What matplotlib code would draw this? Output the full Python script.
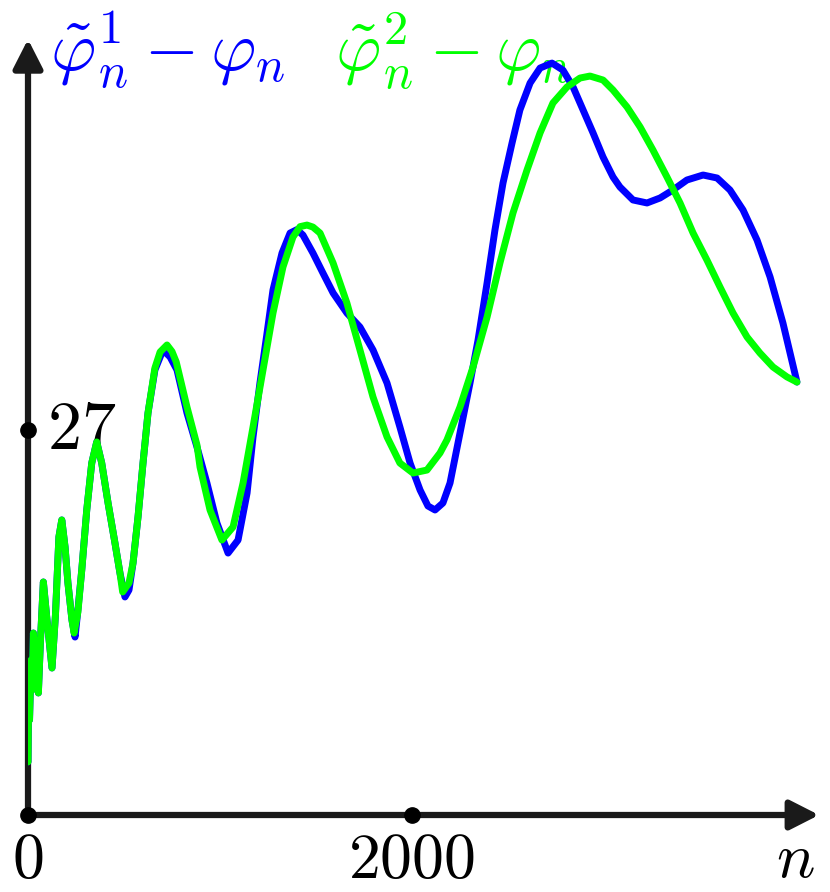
import numpy as np
import matplotlib
matplotlib.use("Agg")
import matplotlib.pyplot as plt

plt.rcParams['mathtext.fontset'] = 'cm'

# values: n and the difference for each approximation
blue_n = [0, 3, 8, 16, 21, 28, 39, 54, 65, 80, 99, 125, 143, 161, 176, 193, 208,
          229, 245, 260, 280, 306, 332, 358, 384, 417, 453, 479, 505, 526, 547, 573,
          599, 625, 661, 703, 740, 776, 828, 880, 932, 984, 1042, 1094, 1141, 1172,
          1208, 1245, 1276, 1323, 1365, 1401, 1432, 1484, 1536, 1589, 1661, 1729,
          1797, 1870, 1937, 1990, 2042, 2083, 2120, 2161, 2198, 2250, 2302, 2344,
          2391, 2432, 2474, 2521, 2562, 2615, 2667, 2729, 2786, 2839, 2891, 2943,
          2995, 3047, 3083, 3151, 3224, 3292, 3359, 3432, 3516, 3589, 3656, 3724,
          3797, 3865, 3932, 4005]
blue_v = [3.72, 8.06, 6.66, 10.87, 8.77, 12.76, 10.52, 8.56, 12.27, 16.34, 13.67,
          10.31, 14.03, 19.50, 20.69, 18.79, 16.27, 13.67, 12.48, 14.38, 17.18,
          21.39, 24.68, 26.16, 24.68, 21.88, 19.07, 16.97, 15.29, 15.78, 17.67,
          20.90, 24.68, 28.19, 31.21, 32.61, 32.12, 31.21, 28.19, 25.81, 23.28,
          20.48, 18.37, 19.28, 22.58, 26.51, 30.29, 33.80, 36.82, 39.41, 40.81,
          41.05, 40.67, 39.41, 38.01, 36.61, 35.20, 34.22, 32.61, 30.29, 27.21,
          24.68, 22.79, 21.67, 21.39, 21.88, 23.28, 26.79, 30.29, 33.31, 37.31,
          41.02, 44.32, 47.12, 49.44, 51.33, 52.38, 52.73, 52.24, 51.05, 49.44,
          47.83, 46.14, 44.74, 44.04, 43.13, 42.92, 43.27, 43.83, 44.53, 44.88,
          44.67, 43.83, 42.43, 40.32, 37.73, 34.50, 30.36]

green_n = [0, 3, 8, 16, 21, 28, 39, 54, 65, 80, 99, 125, 143, 161, 176, 193, 208,
           229, 240, 260, 280, 306, 332, 358, 384, 417, 453, 479, 493, 526, 547, 573,
           599, 625, 661, 688, 724, 750, 772, 828, 880, 896, 948, 1010, 1068, 1120,
           1172, 1224, 1276, 1328, 1380, 1417, 1453, 1484, 1521, 1589, 1661, 1729,
           1797, 1870, 1937, 2005, 2078, 2146, 2182, 2250, 2318, 2391, 2458, 2526,
           2599, 2667, 2734, 2807, 2875, 2927, 2995, 3047, 3120, 3188, 3255, 3328,
           3396, 3464, 3536, 3604, 3672, 3745, 3812, 3880, 3953, 4005]
green_v = [3.72, 8.06, 6.66, 10.87, 8.77, 12.76, 10.52, 8.56, 12.27, 16.34, 13.67,
           10.31, 14.03, 19.50, 20.69, 18.79, 16.27, 13.67, 12.76, 14.24, 17.18,
           21.39, 24.68, 26.16, 24.68, 21.88, 19.07, 16.97, 15.64, 16.27, 17.67,
           20.90, 24.68, 28.19, 31.35, 32.47, 32.96, 32.50, 31.77, 28.61, 25.95,
           24.40, 21.39, 19.28, 20.20, 23.28, 27.21, 31.21, 35.20, 38.43, 40.53,
           41.26, 41.37, 41.23, 40.81, 38.71, 35.90, 32.61, 29.31, 26.51, 24.68,
           23.98, 24.19, 25.39, 26.30, 28.61, 31.42, 34.92, 38.71, 42.22, 45.23,
           47.83, 49.93, 51.05, 51.68, 51.82, 51.54, 50.84, 49.65, 48.25, 46.63,
           44.74, 42.92, 40.81, 38.92, 37.03, 35.20, 33.52, 32.40, 31.42, 30.72,
           30.36]

x_ticks = [0, 2000]
y_ticks = [27]

W, H = 830, 892
fig = plt.figure(figsize=(W / 100, H / 100), dpi=100)
# origin sits at pixel (28, 815); 192 px per 1000 in n, 14.26 px per unit in y
ax = fig.add_axes([28 / W, 77 / H, 802 / W, 815 / H])
ax.set_xlim(0, 802 * 1000 / 192)
ax.set_ylim(0, 815 / 14.26)
ax.axis('off')

axis_col = '#1a1a1a'
arrow = dict(arrowstyle='-|>,head_length=0.55,head_width=0.28', lw=4.5,
             color=axis_col, mutation_scale=32, shrinkA=0, shrinkB=0)
ax.annotate('', xy=(4120, 0), xytext=(0, 0), arrowprops=arrow, annotation_clip=False)
ax.annotate('', xy=(0, 54.4), xytext=(0, 0), arrowprops=arrow, annotation_clip=False)

ax.plot(blue_n, blue_v, color='#0000ff', lw=5.0, solid_capstyle='round',
        solid_joinstyle='round', zorder=3)
ax.plot(green_n, green_v, color='#00ff00', lw=5.0, solid_capstyle='round',
        solid_joinstyle='round', zorder=4)

ax.plot(x_ticks, [0] * len(x_ticks), 'o', color='black', ms=11, clip_on=False, zorder=5)
ax.plot([0] * len(y_ticks), y_ticks, 'o', color='black', ms=11, clip_on=False, zorder=5)

for t in x_ticks:
    ax.text(t, -1.0, '$%d$' % t, fontsize=46, ha='center', va='top')
for t in y_ticks:
    ax.text(100, t, '$%d$' % t, fontsize=49, ha='left', va='center')
ax.text(3995, -0.9, '$n$', fontsize=46, ha='center', va='top')

# legend-like labels sit under the curves
ax.text(50 / W, 1 - 51 / H, r'$\tilde{\varphi}^1_n - \varphi_n$', fontsize=50,
        color='#0000ff', ha='left', va='center', transform=fig.transFigure,
        zorder=1, clip_on=False)
ax.text(335 / W, 1 - 51 / H, r'$\tilde{\varphi}^2_n - \varphi_n$', fontsize=50,
        color='#00ff00', ha='left', va='center', transform=fig.transFigure,
        zorder=1, clip_on=False)

fig.savefig('out.png', dpi=100)
